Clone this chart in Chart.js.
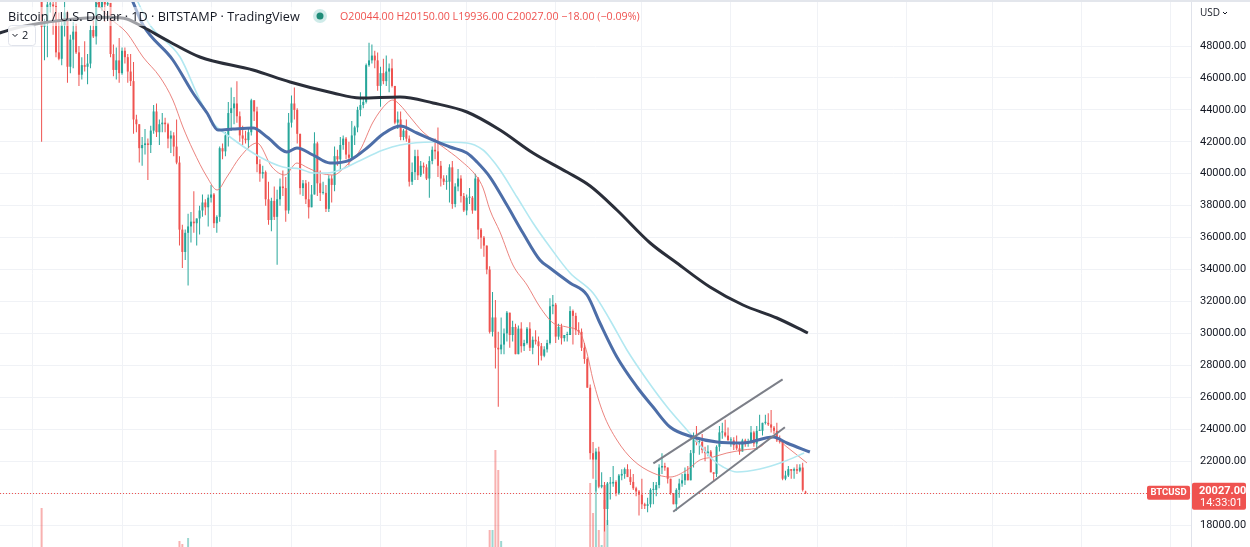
<!DOCTYPE html>
<html><head><meta charset="utf-8">
<script src="https://cdn.jsdelivr.net/npm/chart.js@4.4.1/dist/chart.umd.min.js"></script>
<style>html,body{margin:0;padding:0;background:#fff;overflow:hidden}#wrap{position:relative;width:1250px;height:547px}</style>
</head><body><div id="wrap"><canvas id="c" width="1250" height="547"></canvas></div>
<script>
// Day index 0 = 1 Dec 2021, one candle per day up to 27 Aug 2022
const opens = [
 // Dec
 57000,57200,56500,53600,49200,49400,50600,50600,50500,47600,47200,49300,50100,46700,48400,48900,47600,46200,46800,46700,46900,49000,48600,50800,50400,50800,50600,50700,47500,46500,47100,
 // Jan
 46300,47700,47300,46400,45800,43400,43100,41600,41800,41900,41800,42700,43900,42600,43100,43200,43100,42200,42400,41700,40700,36500,35100,36300,36700,37000,36900,37200,37700,38200,37900,
 // Feb
 38500,38700,36900,37300,41600,41400,42400,43800,44100,44400,43600,42400,42200,42100,42600,44600,43900,40600,40000,40100,38400,37100,38300,37300,38400,39200,39100,37700,
 // Mar
 43200,44400,44000,42500,39100,39400,38400,37900,38700,41900,39400,38800,38800,37800,39700,39300,41100,40900,41800,42200,41200,41000,42400,42900,44000,44300,44500,46800,47100,47400,47100,
 // Apr
 45500,46300,45800,46400,46600,45500,43200,43400,42300,42700,42200,39500,40100,41100,39900,40500,40400,39700,40800,41500,41400,40500,39700,39500,39500,40400,38100,39200,39700,38600,
 // May
 37700,38500,38500,37700,39700,36500,36000,35500,34000,30100,31000,29100,29000,29300,30000,31300,29900,30400,28700,30300,29200,29400,30300,29100,29600,29500,29200,28600,29000,29400,31700,
 // Jun
 31800,29800,30400,29700,29900,29900,31400,31100,30200,30100,29100,28400,26600,22500,22100,22600,20400,20500,19000,20600,20600,20700,20000,21100,21200,21500,21000,20700,20300,20100,
 // Jul
 19900,19300,19200,19300,20200,20200,20500,21600,21700,21600,20900,20000,19300,20200,20600,20800,21200,20800,22500,23400,23200,23200,22700,22500,22600,21300,21200,22900,23800,23800,23600,
 // Aug
 23300,23300,23000,22800,22600,23300,23200,23200,23800,23100,23900,23900,24400,24400,24300,24100,23900,23300,23200,20900,21100,21500,21400,21500,21400,21600,20044
];
const highs = [
 59100,57400,57600,53900,49700,50900,51900,51200,50800,50100,49500,50800,50200,48700,49500,49400,48000,47300,48300,47500,49300,49600,51300,51800,51200,51300,52000,50700,48100,47900,48500,
 47900,47900,47500,47500,47000,43700,43100,42300,42800,42200,43000,44300,44400,43400,43800,43500,43200,42700,42600,43400,41100,36800,36500,37500,37600,38900,37200,38000,38700,38400,38700,
 39300,38800,37400,41700,41900,42600,44500,45400,44800,45800,43900,43000,42700,42900,44700,44600,44200,40900,40500,40200,39500,38500,39200,39000,39700,40200,39800,43800,
 44900,45400,44100,42500,39600,39600,39500,39300,42600,42000,40200,39500,39300,39900,39900,41700,41500,42300,42400,42300,42000,43300,43000,44200,45100,44800,46900,48200,48100,47700,47600,
 46700,47200,47400,46900,47200,45500,43900,43900,42800,43400,42400,40700,41500,41500,40800,40700,40600,41100,41700,42200,42900,40800,39900,39900,40600,40800,39400,40300,39900,38800,
 38700,39100,38600,40000,39800,36600,36100,35500,34200,32600,32100,30100,31000,30300,31400,31300,30800,30600,30500,30700,29600,30400,30700,29800,30200,29800,29400,29200,29600,32200,32400,
 31900,30600,30600,29900,30100,31700,31500,31300,30700,30300,29400,28500,26800,23200,22800,22900,21300,20700,20700,21000,21700,20800,21200,21500,21600,21800,21500,21200,20400,20200,
 20900,19400,19700,20300,20700,20700,21800,22500,21900,21600,20900,20000,20300,20900,21200,21600,21700,22700,23800,24200,23400,23700,22900,23000,22700,21300,23000,24200,24400,24600,24100,
 23500,23500,23600,23200,23400,23400,23400,24200,23900,24200,24900,24400,24900,25000,25200,24200,24400,23600,23200,21400,21700,21500,21600,21800,21800,21900,20150
];
const lows = [
 56500,55900,51700,42000,47100,47300,50100,48700,47300,47100,46800,48600,45700,46300,46600,47500,45500,45900,46400,45600,46600,48500,48100,50400,50200,49500,50500,47300,46100,45900,45700,
 46200,46900,45700,45500,42500,42600,40700,40500,41200,39600,41300,42500,42300,41800,42600,42600,41600,41300,41100,40600,35500,34100,34600,33000,35700,36300,35500,36200,37300,37400,36700,
 38200,36600,36300,37000,40900,41100,41700,42700,43100,43200,42000,41800,41900,41600,42400,43300,40100,39500,39700,38000,36800,36400,37100,34300,38000,38600,37000,37500,
 42900,43400,41900,38700,38600,38100,37200,37900,38700,38600,38300,38700,37600,37600,38200,38900,40500,40200,41500,40900,40500,40900,41800,42600,43600,44100,44400,46700,46900,46600,45200,
 44200,45600,45500,45100,45400,43100,42800,42100,42100,42000,39200,39300,39600,39600,39800,40000,39600,38500,40600,40900,39800,39200,39300,39000,38200,37800,37900,38900,38200,37600,
 37400,38100,37500,37700,35900,35300,34800,33700,30000,29800,27800,25400,28700,28700,29500,29100,29500,28700,28700,28800,28900,29300,28900,28700,29300,28000,28300,28500,28800,29300,31200,
 29400,29600,29300,29500,29500,29900,29300,29900,29900,28900,28100,26600,22100,20900,20100,20300,20300,17600,18000,19600,20400,19800,19900,20800,20900,21000,20500,20200,19800,18600,
 19000,19000,18800,19100,19300,19800,20300,21200,21400,20600,19900,19300,18900,19700,20400,20500,20800,20800,21600,23000,22400,22500,22000,22300,21300,20700,21000,22600,23400,23500,23300,
 22900,22700,22700,22400,22600,22900,22900,23100,22900,22700,23900,23600,24300,24200,23800,23700,23200,23100,20800,20800,21000,20900,20900,21200,21300,20100,19936
];
const closes = [
 57200,56500,53600,49200,49400,50600,50600,50500,47600,47200,49300,50100,46700,48400,48900,47600,46200,46800,46700,46900,49000,48600,50800,50400,50800,50600,50700,47500,46500,47100,46300,
 47700,47300,46400,45800,43400,43100,41600,41800,41900,41800,42700,43900,42600,43100,43200,43100,42200,42400,41700,40700,36500,35100,36300,36700,37000,36900,37200,37700,38200,37900,38500,
 38700,36900,37300,41600,41400,42400,43800,44100,44400,43600,42400,42200,42100,42600,44600,43900,40600,40000,40100,38400,37100,38300,37300,38400,39200,39100,37700,43200,
 44400,44000,42500,39100,39400,38400,37900,38700,41900,39400,38800,38800,37800,39700,39300,41100,40900,41800,42200,41200,41000,42400,42900,44000,44300,44500,46800,47100,47400,47100,45500,
 46300,45800,46400,46600,45500,43200,43400,42300,42700,42200,39500,40100,41100,39900,40500,40400,39700,40800,41500,41400,40500,39700,39500,39500,40400,38100,39200,39700,38600,37700,
 38500,38500,37700,39700,36500,36000,35500,34000,30100,31000,29100,29000,29300,30000,31300,29900,30400,28700,30300,29200,29400,30300,29100,29600,29500,29200,28600,29000,29400,31700,31800,
 29800,30400,29700,29900,29900,31400,31100,30200,30100,29100,28400,26600,22500,22100,22600,20400,20500,19000,20600,20600,20700,20000,21100,21200,21500,21000,20700,20300,20100,19900,
 19300,19200,19300,20200,20200,20500,21600,21700,21600,20900,20000,19300,20200,20600,20800,21200,20800,22500,23400,23200,23200,22700,22500,22600,21300,21200,22900,23800,23800,23600,23300,
 23300,23000,22800,22600,23300,23200,23200,23800,23100,23900,23900,24400,24400,24300,24100,23900,23300,23200,20900,21100,21500,21400,21500,21400,21600,20200,20027
];
// visible volume bars (day index, BTC)
const volDays = [3, 51, 52, 54, 159, 160, 161, 162, 163, 194, 195, 196, 197, 198, 199, 200];
const volumes = [18400, 11800, 11200, 12400, 14000, 14000, 30000, 26000, 11800, 23400, 17400, 24000, 14000, 11000, 20000, 16000];

// moving averages: [day, price]
const ma200Pts = [[-11.6,48814],[-4.5,49190],[9.4,49600],[26.8,49800],[32.7,49691],[38.3,49190],[47.7,48251],[58.1,47311],[76.6,46497],[89.5,45745],[104.5,45056],[113.9,44743],[127.8,44806],[139.3,44430],[151.1,43866],[162.6,42739],[174.1,41299],[185.9,40109],[194.0,39232],[203.3,37729],[214.9,35662],[224.2,34409],[235.7,32906],[247.2,31779],[259.0,30965],[269.8,30025]];
const ma50Pts = [[30.3,52572],[34.5,50881],[38.3,49315],[48.7,47123],[55.7,45056],[60.6,43804],[64.4,42739],[69.6,42802],[76.6,42865],[81.5,42301],[88.4,41362],[91.9,41612],[97.5,41173],[103.4,40672],[110.4,40860],[116.3,41612],[121.9,42488],[127.8,42990],[133.7,42551],[139.3,42113],[145.2,41674],[151.1,41299],[154.6,40735],[159.1,39795],[165.0,38042],[170.6,36288],[176.5,34597],[180.0,34096],[187.0,33157],[192.9,32405],[197.4,30652],[203.3,28522],[210.3,26643],[215.9,25391],[221.8,24138],[229.8,23512],[238.2,23199],[247.2,23136],[257.7,23512],[262.5,23136],[270.5,22572]];
const ma50bPts = [[32.0,52572],[36.2,50881],[40.7,49315],[51.2,47311],[58.1,44618],[62.7,43178],[68.6,42301],[79.0,41048],[87.0,40422],[93.0,40297],[97.5,40046],[102.4,40046],[106.9,40234],[112.8,40735],[121.9,41487],[127.8,41800],[139.3,41987],[151.1,41925],[156.7,41487],[159.1,41048],[162.6,40234],[168.5,38543],[174.1,36915],[180.0,35411],[187.0,33783],[195.0,32531],[200.9,30840],[206.8,28961],[213.8,27082],[220.8,25391],[227.7,23950],[232.2,23011],[236.8,22071],[240.3,21632],[245.1,21319],[253.1,21507],[261.1,21946],[268.5,22509]];
const ema20Pts = [[18.1,52134],[21.6,50881],[26.8,49754],[32.7,48814],[38.3,47311],[44.2,46058],[48.7,44618],[52.2,42927],[55.7,41487],[60.6,39795],[64.1,38981],[67.5,39795],[72.1,41048],[78.0,41925],[83.2,40422],[87.7,39921],[91.9,40672],[95.8,40359],[99.9,40046],[104.5,39921],[109.3,40547],[113.9,41487],[118.4,43240],[123.3,44430],[125.3,44618],[127.8,44305],[131.3,43553],[135.8,42614],[142.8,41674],[148.7,40860],[154.6,39795],[156.7,39107],[159.1,37729],[162.6,36350],[167.1,34284],[172.0,33032],[176.5,31654],[181.1,30652],[185.9,30401],[190.5,30025],[192.9,28773],[195.0,27082],[198.5,25015],[203.3,23324],[208.9,22071],[215.9,21256],[221.8,21006],[227.7,21444],[232.2,22071],[236.8,22258],[241.6,22509],[247.2,22697],[253.1,22886],[257.7,23512],[262.5,22886],[269.5,21883]];
const channelUpper = [[216.0,21864],[261.0,27125]];
const channelLower = [[222.9,18833],[261.8,24119]];

const monthStarts = [0,31,62,90,121,151,182,212,243,273,304,334,365,396];
const priceTicks = [18000,20000,22000,24000,26000,28000,30000,32000,34000,36000,38000,40000,42000,44000,46000,48000];
const headerTitle = 'Bitcoin / U.S. Dollar · 1D · BITSTAMP · TradingView';
const headerOHLC = 'O20044.00 H20150.00 L19936.00 C20027.00 \u221218.00 (\u22120.09%)';
const countdown = '14:33:01';

const UP = '#26a69a', DN = '#ef5350';
const idx = closes.map((_, i) => i);
const isUp = i => closes[i] >= opens[i];
const pts = arr => arr.map(p => ({x: p[0], y: p[1]}));
const lastPrice = closes[closes.length - 1];

function fitText(ctx, text, family, size, width) {
  ctx.font = size + 'px ' + family;
  const w = ctx.measureText(text).width;
  ctx.font = (size * width / w).toFixed(2) + 'px ' + family;
}

const overlay = {
  id: 'overlay',
  beforeDatasetsDraw(chart) {
    const {ctx, chartArea: a, scales: {y}} = chart;
    const py = Math.round(y.getPixelForValue(lastPrice)) + 0.5;
    ctx.save();
    ctx.strokeStyle = '#ef5350'; ctx.lineWidth = 1; ctx.setLineDash([1, 2]);
    ctx.beginPath(); ctx.moveTo(a.left, py); ctx.lineTo(a.right, py); ctx.stroke();
    ctx.restore();
  },
  afterDraw(chart) {
    const {ctx, scales: {y}} = chart;
    ctx.save();
    // top frame line
    ctx.fillStyle = '#e3e6ec'; ctx.fillRect(0, 0, 1250, 2);
    // header
    ctx.textBaseline = 'middle';
    fitText(ctx, headerTitle, '"Open Sans"', 13, 292);
    ctx.fillStyle = 'rgba(255,255,255,0.55)';
    ctx.fillRect(5, 7, 298, 19);
    ctx.fillStyle = '#131722';
    ctx.fillText(headerTitle, 8, 17);
    // status dot
    ctx.fillStyle = 'rgba(38,166,154,0.22)';
    ctx.beginPath(); ctx.arc(320, 16, 7, 0, Math.PI * 2); ctx.fill();
    ctx.fillStyle = '#1e8c78';
    ctx.beginPath(); ctx.arc(320, 16, 3.5, 0, Math.PI * 2); ctx.fill();
    // OHLC
    fitText(ctx, headerOHLC, '"Open Sans"', 12, 300);
    ctx.fillStyle = '#ef5350';
    ctx.fillText(headerOHLC, 340, 17);
    // collapse box
    ctx.fillStyle = 'rgba(255,255,255,0.9)';
    ctx.strokeStyle = '#e0e3eb'; ctx.lineWidth = 1;
    ctx.beginPath(); ctx.roundRect(8.5, 25.5, 27, 20, 3); ctx.fill(); ctx.stroke();
    ctx.strokeStyle = '#131722';
    ctx.beginPath(); ctx.moveTo(12.5, 34); ctx.lineTo(15, 36.5); ctx.lineTo(17.5, 34); ctx.stroke();
    ctx.fillStyle = '#131722'; ctx.font = '11px "Open Sans"';
    ctx.fillText('2', 22, 36);
    // currency label
    ctx.font = '10px "Open Sans"';
    ctx.fillText('USD', 1200, 13);
    ctx.beginPath(); ctx.moveTo(1223, 12); ctx.lineTo(1225, 14); ctx.lineTo(1227, 12); ctx.stroke();
    // price labels
    const py = y.getPixelForValue(lastPrice);
    ctx.fillStyle = '#ef5350';
    ctx.beginPath(); ctx.roundRect(1192, py - 10, 54, 27, 2); ctx.fill();
    ctx.beginPath(); ctx.roundRect(1147, py - 7, 43, 14, 2); ctx.fill();
    ctx.fillStyle = '#ffffff';
    ctx.font = 'bold 11px Roboto';
    ctx.fillText(lastPrice.toFixed(2), 1199, py - 1);
    ctx.font = '11px Roboto';
    ctx.fillText(countdown, 1200, py + 11);
    ctx.font = 'bold 9.5px Roboto';
    ctx.textAlign = 'center';
    ctx.fillText('BTCUSD', 1168.5, py);
    ctx.restore();
  }
};

new Chart(document.getElementById('c'), {
  type: 'bar',
  data: {
    datasets: [
      {type: 'bar', label: 'Volume', yAxisID: 'yv', order: 10, grouped: false,
       data: volDays.map((d, k) => ({x: d, y: volumes[k]})),
       backgroundColor: volDays.map(d => isUp(d) ? 'rgba(38,166,154,0.45)' : 'rgba(239,83,80,0.45)'),
       barThickness: 2, borderWidth: 0, inflateAmount: 0},
      {type: 'bar', label: 'Wicks', yAxisID: 'y', order: 9, grouped: false,
       data: idx.map(i => ({x: i, y: [lows[i], highs[i]]})),
       backgroundColor: idx.map(i => isUp(i) ? UP : DN),
       barThickness: 1, borderWidth: 0, inflateAmount: 0},
      {type: 'bar', label: 'Bodies', yAxisID: 'y', order: 8, grouped: false,
       data: idx.map(i => ({x: i, y: [opens[i], closes[i]]})),
       backgroundColor: idx.map(i => isUp(i) ? UP : DN),
       barThickness: 2, minBarLength: 1, borderWidth: 0, inflateAmount: 0},
      {type: 'line', label: 'EMA 20', yAxisID: 'y', order: 4, data: pts(ema20Pts),
       borderColor: 'rgba(232,110,104,0.85)', borderWidth: 1, pointRadius: 0, fill: false, cubicInterpolationMode: 'monotone'},
      {type: 'line', label: 'MA 50 b', yAxisID: 'y', order: 3, data: pts(ma50bPts),
       borderColor: '#b2e8f1', borderWidth: 1.6, pointRadius: 0, fill: false, cubicInterpolationMode: 'monotone'},
      {type: 'line', label: 'MA 50', yAxisID: 'y', order: 2, data: pts(ma50Pts),
       borderColor: '#4d6ea8', borderWidth: 3, pointRadius: 0, fill: false, cubicInterpolationMode: 'monotone'},
      {type: 'line', label: 'MA 200', yAxisID: 'y', order: 1, data: pts(ma200Pts),
       borderColor: '#2a2e39', borderWidth: 3, pointRadius: 0, fill: false, cubicInterpolationMode: 'monotone'},
      {type: 'line', label: 'Channel top', yAxisID: 'y', order: 0, data: pts(channelUpper),
       borderColor: '#7c7f88', borderWidth: 2, pointRadius: 0, fill: false, tension: 0},
      {type: 'line', label: 'Channel bottom', yAxisID: 'y', order: 0, data: pts(channelLower),
       borderColor: '#7c7f88', borderWidth: 2, pointRadius: 0, fill: false, tension: 0}
    ]
  },
  options: {
    responsive: false, animation: false, devicePixelRatio: 1, events: [],
    layout: {padding: 0, autoPadding: false},
    plugins: {legend: {display: false}, tooltip: {enabled: false}},
    scales: {
      x: {type: 'linear', min: -11.49, max: 403.2, offset: false,
          grid: {color: '#f0f2f6', drawTicks: false, offset: false},
          border: {display: false}, ticks: {display: false},
          afterBuildTicks: s => { s.ticks = monthStarts.map(v => ({value: v})); },
          afterFit: s => { s.height = 0; s.paddingLeft = 0; s.paddingRight = 0; }},
      y: {type: 'linear', position: 'right', min: 16623, max: 50881, beginAtZero: false,
          grid: {color: '#f0f2f6', drawTicks: false},
          border: {color: '#e0e3eb'},
          ticks: {padding: 9, color: '#131722', font: {size: 11, family: 'Roboto'}, callback: v => v.toFixed(2)},
          afterBuildTicks: s => { s.ticks = priceTicks.map(v => ({value: v})); },
          afterFit: s => { s.width = 59; s.paddingTop = 0; s.paddingBottom = 0; }},
      yv: {type: 'linear', display: false, min: 10600, max: 120000, beginAtZero: false}
    }
  },
  plugins: [overlay]
});
</script></body></html>
